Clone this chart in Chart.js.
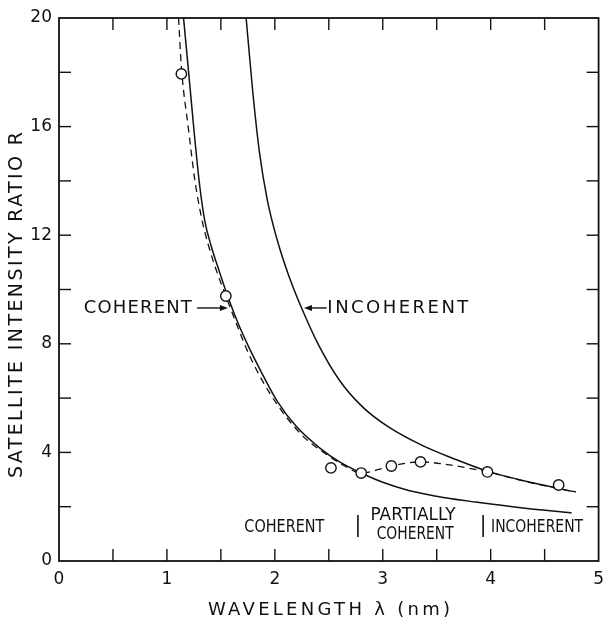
<!DOCTYPE html>
<html>
<head>
<meta charset="utf-8">
<script src="https://cdn.jsdelivr.net/npm/chart.js@4.4.1/dist/chart.umd.min.js"></script>
<style>
  html, body { margin: 0; padding: 0; background: #fff; }
</style>
</head>
<body>
<canvas id="ratio" width="612" height="628"></canvas>
<script>
// Values (lambda in nm, R = satellite intensity ratio)
const coherentLambda = [1.154, 1.2, 1.25, 1.30, 1.35, 1.41, 1.474, 1.55, 1.65, 1.75, 1.85, 2.02, 2.2, 2.42, 2.6, 2.8, 3.0, 3.24, 3.58, 3.86, 4.3, 4.75];
const coherentR      = [20, 18.05, 15.9, 13.95, 12.55, 11.6, 10.8, 9.9, 8.85, 7.95, 7.15, 5.9, 4.95, 4.15, 3.65, 3.24, 2.9, 2.6, 2.33, 2.17, 1.95, 1.77];

const incoherentLambda = [1.734, 1.795, 1.856, 1.93, 2.02, 2.13, 2.25, 2.4, 2.6, 2.82, 3.06, 3.37, 3.67, 3.96, 4.4, 4.79];
const incoherentR      = [20, 17.3, 15.1, 13.3, 11.85, 10.5, 9.3, 8.0, 6.65, 5.65, 4.92, 4.25, 3.75, 3.32, 2.87, 2.54];

const measuredFitLambda = [1.108, 1.134, 1.2, 1.26, 1.32, 1.383, 1.46, 1.546, 1.65, 1.75, 1.95, 2.24, 2.51, 2.63, 2.8, 3.08, 3.35, 3.6, 3.97, 4.3, 4.77];
const measuredFitR      = [20, 18.2, 15.9, 14.0, 12.65, 11.65, 10.68, 9.76, 8.68, 7.7, 6.2, 4.68, 3.84, 3.54, 3.24, 3.5, 3.65, 3.55, 3.28, 2.95, 2.55];

const pointLambda = [1.134, 1.546, 2.52, 2.80, 3.08, 3.35, 3.97, 4.63];
const pointR      = [17.94, 9.76, 3.43, 3.24, 3.50, 3.65, 3.28, 2.80];

const xTickLabels = ['0', '1', '2', '3', '4', '5'];
const yTickLabels = ['0', '4', '8', '12', '16', '20'];

const FONT = '"DejaVu Sans", Arial, sans-serif';

const toXY = (xs, ys) => xs.map((x, i) => ({ x, y: ys[i] }));

// text with extra letter spacing so it fills a given width
function spacedText(ctx, text, cx, cy, width, size, rotate) {
    ctx.save();
    ctx.font = `${size}px ${FONT}`;
    ctx.letterSpacing = '0px';
    const natural = ctx.measureText(text).width;
    const gap = Math.max(0, (width - natural) / (text.length - 1));
    ctx.letterSpacing = gap + 'px';
    ctx.translate(cx, cy);
    if (rotate) ctx.rotate(-Math.PI / 2);
    ctx.textAlign = 'left';
    ctx.textBaseline = 'middle';
    ctx.fillText(text, -width / 2, 0);
    ctx.restore();
}

// narrow lettering, squeezed horizontally to a width
function squeezedText(ctx, text, cx, cy, width, size) {
    ctx.save();
    ctx.font = `${size}px ${FONT}`;
    const natural = ctx.measureText(text).width;
    ctx.translate(cx, cy);
    ctx.scale(width / natural, 1);
    ctx.textAlign = 'center';
    ctx.textBaseline = 'middle';
    ctx.fillText(text, 0, 0);
    ctx.restore();
}

function arrow(ctx, x0, y0, x1, y1) {
    const dir = Math.sign(x1 - x0);
    ctx.beginPath();
    ctx.moveTo(x0, y0);
    ctx.lineTo(x1 - dir * 6, y1);
    ctx.stroke();
    ctx.beginPath();
    ctx.moveTo(x1, y1);
    ctx.lineTo(x1 - dir * 8, y1 - 3);
    ctx.lineTo(x1 - dir * 8, y1 + 3);
    ctx.closePath();
    ctx.fill();
}

// frame, inward ticks on all four sides, labels
const paperFrame = {
    id: 'paperFrame',
    afterDatasetsDraw(chart) {
        const { ctx, chartArea: a, scales: { x, y } } = chart;
        const px = v => x.getPixelForValue(v);
        const py = v => y.getPixelForValue(v);
        const seg = (x0, y0, x1, y1) => { ctx.beginPath(); ctx.moveTo(x0, y0); ctx.lineTo(x1, y1); ctx.stroke(); };

        ctx.save();
        ctx.strokeStyle = '#111';
        ctx.fillStyle = '#111';
        ctx.lineWidth = 1.8;
        ctx.strokeRect(a.left, a.top, a.right - a.left, a.bottom - a.top);

        ctx.lineWidth = 1.4;
        const len = 12;
        x.ticks.forEach(t => {
            const p = px(t.value);
            if (p <= a.left + 1 || p >= a.right - 1) return;
            seg(p, a.bottom, p, a.bottom - len);
            seg(p, a.top, p, a.top + len);
        });
        y.ticks.forEach(t => {
            const p = py(t.value);
            if (p <= a.top + 1 || p >= a.bottom - 1) return;
            seg(a.left, p, a.left + len, p);
            seg(a.right, p, a.right - len, p);
        });

        // axis titles
        spacedText(ctx, 'SATELLITE INTENSITY RATIO R', 17, 305, 346, 19, true);
        spacedText(ctx, 'WAVELENGTH \u03bb (nm)', 329, 610, 242, 18, false);

        // curve labels with arrows
        const ay = py(9.32);
        spacedText(ctx, 'COHERENT', px(0.73), ay, 108, 18, false);
        arrow(ctx, px(1.28), ay, px(1.565), ay);
        spacedText(ctx, 'INCOHERENT', px(3.14), ay, 141, 18, false);
        arrow(ctx, px(2.48), ay, px(2.27), ay);

        // regime labels along the bottom
        squeezedText(ctx, 'COHERENT', px(2.088), py(1.25), 80, 18);
        squeezedText(ctx, 'PARTIALLY', px(3.28), py(1.68), 85, 17);
        squeezedText(ctx, 'COHERENT', px(3.30), py(0.98), 77, 17);
        squeezedText(ctx, 'INCOHERENT', px(4.43), py(1.23), 92, 18);
        ctx.lineWidth = 1.6;
        seg(px(2.77), py(0.88), px(2.77), py(1.69));
        seg(px(3.93), py(0.88), px(3.93), py(1.69));
        ctx.restore();
    }
};

const lineStyle = {
    showLine: true,
    borderColor: '#111',
    borderWidth: 1.5,
    pointRadius: 0,
    cubicInterpolationMode: 'monotone',
    fill: false,
    order: 1
};

new Chart(document.getElementById('ratio'), {
    type: 'scatter',
    data: {
        datasets: [
            {
                label: 'Measured',
                data: toXY(pointLambda, pointR),
                pointRadius: 5.2,
                pointBackgroundColor: '#fff',
                pointBorderColor: '#111',
                pointBorderWidth: 1.4,
                order: 0
            },
            { ...lineStyle, label: 'Coherent', data: toXY(coherentLambda, coherentR) },
            { ...lineStyle, label: 'Incoherent', data: toXY(incoherentLambda, incoherentR) },
            {
                ...lineStyle,
                label: 'Fit to data',
                data: toXY(measuredFitLambda, measuredFitR),
                borderWidth: 1.3,
                borderDash: [7, 5]
            }
        ]
    },
    options: {
        responsive: false,
        animation: false,
        devicePixelRatio: 1,
        layout: { padding: { top: 18, right: 7, left: 0, bottom: 0 } },
        plugins: {
            legend: { display: false },
            tooltip: { enabled: false }
        },
        scales: {
            x: {
                type: 'linear',
                min: 0,
                max: 5,
                grid: { display: false, drawTicks: false },
                border: { display: false },
                ticks: {
                    stepSize: 0.5,
                    padding: 8,
                    maxRotation: 0,
                    autoSkip: false,
                    color: '#111',
                    font: { family: FONT, size: 17 },
                    callback: (v) => Number.isInteger(v) ? xTickLabels[v] : ''
                },
                afterFit: (scale) => { scale.height = 67; }
            },
            y: {
                type: 'linear',
                min: 0,
                max: 20,
                grid: { display: false, drawTicks: false },
                border: { display: false },
                ticks: {
                    stepSize: 2,
                    padding: 7,
                    autoSkip: false,
                    color: '#111',
                    font: { family: FONT, size: 17 },
                    callback: (v) => v % 4 === 0 ? yTickLabels[v / 4] : ''
                },
                afterFit: (scale) => { scale.width = 59; }
            }
        }
    },
    plugins: [paperFrame]
});
</script>
</body>
</html>
